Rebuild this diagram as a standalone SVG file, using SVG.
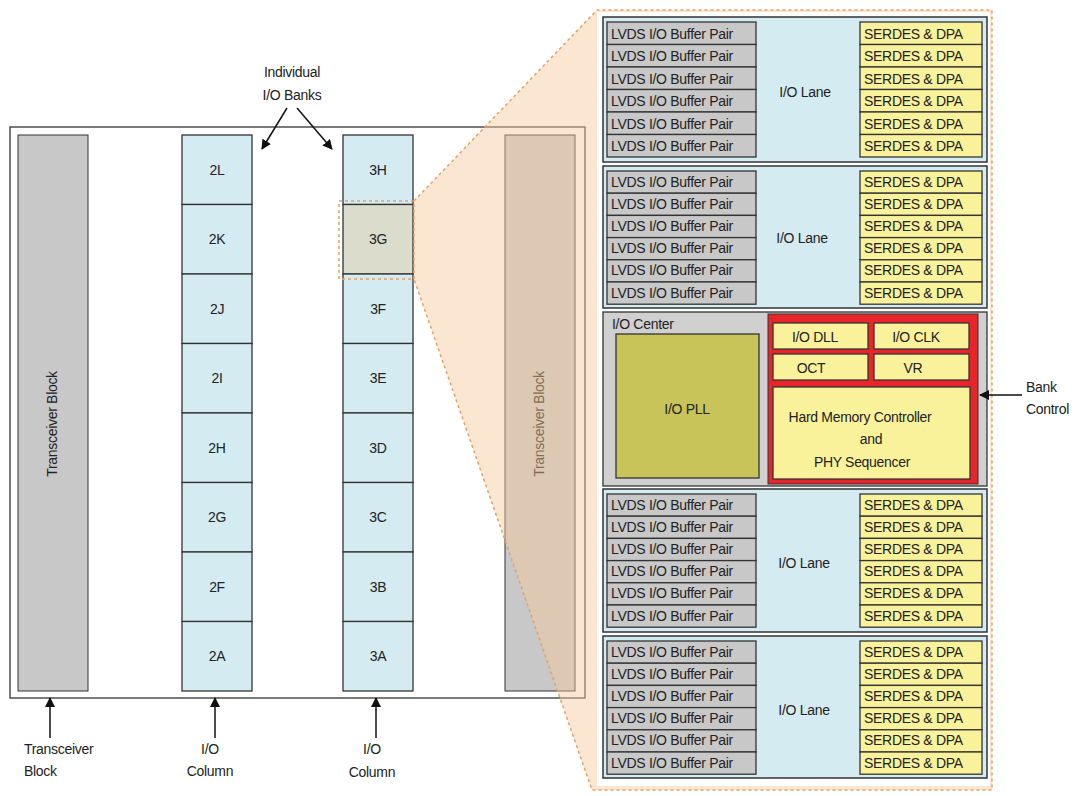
<svg xmlns="http://www.w3.org/2000/svg" width="1080" height="796" viewBox="0 0 1080 796">
<style>
text{font-family:"Liberation Sans",Arial,sans-serif;font-size:14px;fill:#222;text-anchor:middle;letter-spacing:-0.3px}
.bank{fill:#d4ebf2;stroke:#333;stroke-width:1.3}
.lvds{fill:#c8c8c8;stroke:#333;stroke-width:1.3}
.ser{fill:#f9f29a;stroke:#333;stroke-width:1.3}
.lane{fill:#d4ebf2;stroke:#333;stroke-width:1.5}
.l{text-anchor:start}
.ln{stroke:#111;stroke-width:1.5;fill:none}
</style>
<defs><marker id="ah" markerWidth="10" markerHeight="10" refX="9" refY="5" orient="auto" markerUnits="userSpaceOnUse"><path d="M0,0 L10,5 L0,10Z" fill="#111"/></marker></defs>
<rect width="1080" height="796" fill="#fff"/>
<g id="chip">
<rect x="10" y="127" width="575" height="571" fill="#fff" stroke="#333" stroke-width="1.3"/>
</g>
<g id="transceiver-left"><rect x="18" y="135" width="70" height="556" fill="#c8c8c8" stroke="#333"/><text transform="translate(57,424) rotate(-90)">Transceiver Block</text></g>
<g id="transceiver-right"><rect x="505" y="135" width="70" height="556" fill="#c8c8c8" stroke="#333"/><text transform="translate(544,424) rotate(-90)">Transceiver Block</text></g>
<g id="col2">
<rect class="bank" x="182" y="135" width="70" height="69.5"/><text x="217" y="175">2L</text>
<rect class="bank" x="182" y="204.5" width="70" height="69.5"/><text x="217" y="244">2K</text>
<rect class="bank" x="182" y="274" width="70" height="69.5"/><text x="217" y="314">2J</text>
<rect class="bank" x="182" y="343.5" width="70" height="69.5"/><text x="217" y="383">2I</text>
<rect class="bank" x="182" y="413" width="70" height="69.5"/><text x="217" y="453">2H</text>
<rect class="bank" x="182" y="482.5" width="70" height="69.5"/><text x="217" y="522">2G</text>
<rect class="bank" x="182" y="552" width="70" height="69.5"/><text x="217" y="592">2F</text>
<rect class="bank" x="182" y="621.5" width="70" height="69.5"/><text x="217" y="661">2A</text>
</g>
<g id="col3">
<rect class="bank" x="343" y="135" width="70" height="69.5"/><text x="378" y="175">3H</text>
<rect class="bank" x="343" y="204.5" width="70" height="69.5" style="fill:#dcdccc"/><text x="378" y="244">3G</text>
<rect class="bank" x="343" y="274" width="70" height="69.5"/><text x="378" y="314">3F</text>
<rect class="bank" x="343" y="343.5" width="70" height="69.5"/><text x="378" y="383">3E</text>
<rect class="bank" x="343" y="413" width="70" height="69.5"/><text x="378" y="453">3D</text>
<rect class="bank" x="343" y="482.5" width="70" height="69.5"/><text x="378" y="522">3C</text>
<rect class="bank" x="343" y="552" width="70" height="69.5"/><text x="378" y="592">3B</text>
<rect class="bank" x="343" y="621.5" width="70" height="69.5"/><text x="378" y="661">3A</text>
</g>
<g id="zoom-wedge">
<polygon points="414,201 597,10 992,10 992,790 592,790 414,279" fill="#f6c89a" fill-opacity="0.45"/>
<path d="M414,201 L597,10 L992,10 L992,790 L592,790 L414,279" fill="none" stroke="#e8a060" stroke-width="1.5" stroke-dasharray="3,3"/>
<rect x="339" y="201" width="75" height="78" fill="none" stroke="#e8a060" stroke-width="1.5" stroke-dasharray="3,3"/>
</g>
<g id="panel">
<rect x="597" y="12" width="393" height="774" fill="#fff"/>
<g id="lane1"><rect class="lane" x="603" y="17" width="384" height="145"/><text x="805" y="97">I/O Lane</text>
<rect class="lvds" x="607" y="22" width="149" height="22.5"/><text class="l" x="611" y="39">LVDS I/O Buffer Pair</text>
<rect class="lvds" x="607" y="44.5" width="149" height="22.5"/><text class="l" x="611" y="61">LVDS I/O Buffer Pair</text>
<rect class="lvds" x="607" y="67" width="149" height="22.5"/><text class="l" x="611" y="84">LVDS I/O Buffer Pair</text>
<rect class="lvds" x="607" y="89.5" width="149" height="22.5"/><text class="l" x="611" y="106">LVDS I/O Buffer Pair</text>
<rect class="lvds" x="607" y="112" width="149" height="22.5"/><text class="l" x="611" y="129">LVDS I/O Buffer Pair</text>
<rect class="lvds" x="607" y="134.5" width="149" height="22.5"/><text class="l" x="611" y="151">LVDS I/O Buffer Pair</text>
<rect class="ser" x="860" y="22" width="122" height="22.5"/><text class="l" x="864" y="39">SERDES &amp; DPA</text>
<rect class="ser" x="860" y="44.5" width="122" height="22.5"/><text class="l" x="864" y="61">SERDES &amp; DPA</text>
<rect class="ser" x="860" y="67" width="122" height="22.5"/><text class="l" x="864" y="84">SERDES &amp; DPA</text>
<rect class="ser" x="860" y="89.5" width="122" height="22.5"/><text class="l" x="864" y="106">SERDES &amp; DPA</text>
<rect class="ser" x="860" y="112" width="122" height="22.5"/><text class="l" x="864" y="129">SERDES &amp; DPA</text>
<rect class="ser" x="860" y="134.5" width="122" height="22.5"/><text class="l" x="864" y="151">SERDES &amp; DPA</text>
</g>
<g id="lane2" transform="translate(0,149)"><rect class="lane" x="603" y="17" width="384" height="142"/><text x="802" y="94">I/O Lane</text>
<rect class="lvds" x="607" y="22" width="149" height="22.2"/><text class="l" x="611" y="38">LVDS I/O Buffer Pair</text>
<rect class="lvds" x="607" y="44.2" width="149" height="22.2"/><text class="l" x="611" y="60">LVDS I/O Buffer Pair</text>
<rect class="lvds" x="607" y="66.4" width="149" height="22.2"/><text class="l" x="611" y="82">LVDS I/O Buffer Pair</text>
<rect class="lvds" x="607" y="88.6" width="149" height="22.2"/><text class="l" x="611" y="104">LVDS I/O Buffer Pair</text>
<rect class="lvds" x="607" y="110.8" width="149" height="22.2"/><text class="l" x="611" y="126">LVDS I/O Buffer Pair</text>
<rect class="lvds" x="607" y="133" width="149" height="22.2"/><text class="l" x="611" y="149">LVDS I/O Buffer Pair</text>
<rect class="ser" x="860" y="22" width="122" height="22.2"/><text class="l" x="864" y="38">SERDES &amp; DPA</text>
<rect class="ser" x="860" y="44.2" width="122" height="22.2"/><text class="l" x="864" y="60">SERDES &amp; DPA</text>
<rect class="ser" x="860" y="66.4" width="122" height="22.2"/><text class="l" x="864" y="82">SERDES &amp; DPA</text>
<rect class="ser" x="860" y="88.6" width="122" height="22.2"/><text class="l" x="864" y="104">SERDES &amp; DPA</text>
<rect class="ser" x="860" y="110.8" width="122" height="22.2"/><text class="l" x="864" y="126">SERDES &amp; DPA</text>
<rect class="ser" x="860" y="133" width="122" height="22.2"/><text class="l" x="864" y="149">SERDES &amp; DPA</text>
</g>
<g id="io-center">
<rect x="603" y="312" width="384" height="174" fill="#d0d0d0" stroke="#333" stroke-width="1.3"/>
<text class="l" x="612" y="329">I/O Center</text>
<g id="io-pll"><rect x="616" y="334" width="143" height="144" fill="#c8c45a" stroke="#333" stroke-width="1.3"/><text x="687" y="414">I/O PLL</text></g>
<g id="bank-control"><rect x="768" y="314" width="210" height="170" fill="#e8262a" stroke="#333"/>
<rect class="ser" x="773" y="323" width="95" height="26"/><text x="815" y="342">I/O DLL</text>
<rect class="ser" x="874" y="323" width="95" height="26"/><text x="916" y="342">I/O CLK</text>
<rect class="ser" x="773" y="354" width="95" height="26"/><text x="811" y="373">OCT</text>
<rect class="ser" x="874" y="354" width="95" height="26"/><text x="913" y="373">VR</text>
<rect class="ser" x="773" y="387" width="197" height="92"/>
<text x="860" y="422">Hard Memory Controller</text><text x="871" y="444">and</text><text x="862" y="467">PHY Sequencer</text>
</g></g>
<g id="lane3" transform="translate(0,472)"><rect class="lane" x="603" y="17" width="384" height="143"/><text x="804" y="96">I/O Lane</text>
<rect class="lvds" x="607" y="22" width="149" height="22.2"/><text class="l" x="611" y="38">LVDS I/O Buffer Pair</text>
<rect class="lvds" x="607" y="44.2" width="149" height="22.2"/><text class="l" x="611" y="60">LVDS I/O Buffer Pair</text>
<rect class="lvds" x="607" y="66.4" width="149" height="22.2"/><text class="l" x="611" y="82">LVDS I/O Buffer Pair</text>
<rect class="lvds" x="607" y="88.6" width="149" height="22.2"/><text class="l" x="611" y="104">LVDS I/O Buffer Pair</text>
<rect class="lvds" x="607" y="110.8" width="149" height="22.2"/><text class="l" x="611" y="126">LVDS I/O Buffer Pair</text>
<rect class="lvds" x="607" y="133" width="149" height="22.2"/><text class="l" x="611" y="149">LVDS I/O Buffer Pair</text>
<rect class="ser" x="860" y="22" width="122" height="22.2"/><text class="l" x="864" y="38">SERDES &amp; DPA</text>
<rect class="ser" x="860" y="44.2" width="122" height="22.2"/><text class="l" x="864" y="60">SERDES &amp; DPA</text>
<rect class="ser" x="860" y="66.4" width="122" height="22.2"/><text class="l" x="864" y="82">SERDES &amp; DPA</text>
<rect class="ser" x="860" y="88.6" width="122" height="22.2"/><text class="l" x="864" y="104">SERDES &amp; DPA</text>
<rect class="ser" x="860" y="110.8" width="122" height="22.2"/><text class="l" x="864" y="126">SERDES &amp; DPA</text>
<rect class="ser" x="860" y="133" width="122" height="22.2"/><text class="l" x="864" y="149">SERDES &amp; DPA</text>
</g>
<g id="lane4" transform="translate(0,619)"><rect class="lane" x="603" y="17" width="384" height="142"/><text x="804" y="96">I/O Lane</text>
<rect class="lvds" x="607" y="22" width="149" height="22.2"/><text class="l" x="611" y="38">LVDS I/O Buffer Pair</text>
<rect class="lvds" x="607" y="44.2" width="149" height="22.2"/><text class="l" x="611" y="60">LVDS I/O Buffer Pair</text>
<rect class="lvds" x="607" y="66.4" width="149" height="22.2"/><text class="l" x="611" y="82">LVDS I/O Buffer Pair</text>
<rect class="lvds" x="607" y="88.6" width="149" height="22.2"/><text class="l" x="611" y="104">LVDS I/O Buffer Pair</text>
<rect class="lvds" x="607" y="110.8" width="149" height="22.2"/><text class="l" x="611" y="126">LVDS I/O Buffer Pair</text>
<rect class="lvds" x="607" y="133" width="149" height="22.2"/><text class="l" x="611" y="149">LVDS I/O Buffer Pair</text>
<rect class="ser" x="860" y="22" width="122" height="22.2"/><text class="l" x="864" y="38">SERDES &amp; DPA</text>
<rect class="ser" x="860" y="44.2" width="122" height="22.2"/><text class="l" x="864" y="60">SERDES &amp; DPA</text>
<rect class="ser" x="860" y="66.4" width="122" height="22.2"/><text class="l" x="864" y="82">SERDES &amp; DPA</text>
<rect class="ser" x="860" y="88.6" width="122" height="22.2"/><text class="l" x="864" y="104">SERDES &amp; DPA</text>
<rect class="ser" x="860" y="110.8" width="122" height="22.2"/><text class="l" x="864" y="126">SERDES &amp; DPA</text>
<rect class="ser" x="860" y="133" width="122" height="22.2"/><text class="l" x="864" y="149">SERDES &amp; DPA</text>
</g>
</g>
<g id="connectors">
<line class="ln" x1="287" y1="108" x2="262" y2="149" marker-end="url(#ah)"/>
<line class="ln" x1="297" y1="108" x2="332" y2="149" marker-end="url(#ah)"/>
<line class="ln" x1="50" y1="738" x2="50" y2="698" marker-end="url(#ah)"/>
<line class="ln" x1="215" y1="738" x2="215" y2="698" marker-end="url(#ah)"/>
<line class="ln" x1="376" y1="738" x2="376" y2="698" marker-end="url(#ah)"/>
<line class="ln" x1="1022" y1="395" x2="980" y2="395" marker-end="url(#ah)"/>
</g>
<g id="labels">
<text x="292" y="77">Individual</text><text x="292" y="100">I/O Banks</text>
<text class="l" x="24" y="754">Transceiver</text><text class="l" x="24" y="776">Block</text>
<text x="210" y="754">I/O</text><text x="210" y="776">Column</text>
<text x="372" y="754">I/O</text><text x="372" y="777">Column</text>
<text class="l" x="1026" y="392">Bank</text><text class="l" x="1026" y="414">Control</text>
</g>
</svg>
